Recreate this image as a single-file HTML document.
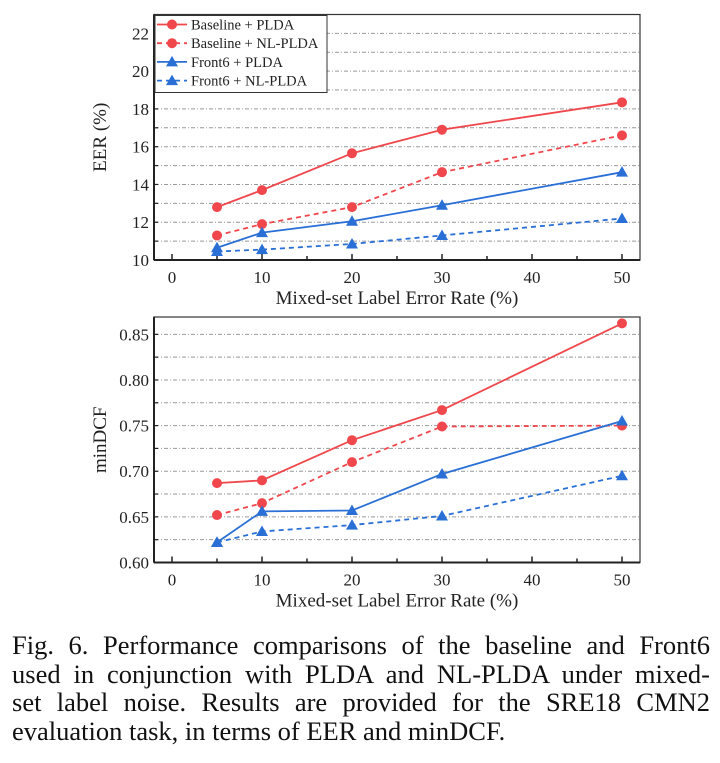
<!DOCTYPE html>
<html><head><meta charset="utf-8"><style>
body{margin:0;background:#fff;width:720px;height:763px;overflow:hidden;font-family:"Liberation Serif",serif}
svg text{font-family:"Liberation Serif","DejaVu Serif",serif !important}
#cap{position:absolute;left:12px;top:631px;width:698px;font-size:26.5px;line-height:28.7px;color:#111;font-family:"Liberation Serif",serif}
#cap div{text-align:justify;text-align-last:justify;white-space:nowrap}
#cap div.last{text-align-last:left}
</style></head><body>
<svg id="svg" width="720" height="630" style="position:absolute;left:0;top:0;font-family:'Liberation Serif',serif"></svg>
<div id="cap">
<div>Fig. 6. Performance comparisons of the baseline and Front6</div>
<div>used in conjunction with PLDA and NL-PLDA under mixed-</div>
<div>set label noise. Results are provided for the SRE18 CMN2</div>
<div class="last">evaluation task, in terms of EER and minDCF.</div>
</div>
<script>
const xCats=[5,10,20,30,50];
const xTicks=[0,10,20,30,40,50];
const seriesNames=["Baseline + PLDA","Baseline + NL-PLDA","Front6 + PLDA","Front6 + NL-PLDA"];
const eerBasePlda=[12.8,13.7,15.65,16.9,18.35];
const eerBaseNl=[11.3,11.9,12.8,14.65,16.6];
const eerFrontPlda=[10.65,11.45,12.05,12.9,14.65];
const eerFrontNl=[10.45,10.55,10.85,11.3,12.2];
const eerTicks=[10,12,14,16,18,20,22];
const dcfBasePlda=[0.687,0.690,0.734,0.767,0.862];
const dcfBaseNl=[0.652,0.665,0.710,0.749,0.750];
const dcfFrontPlda=[0.622,0.656,0.657,0.697,0.755];
const dcfFrontNl=[0.622,0.634,0.641,0.651,0.695];
const dcfTicks=[0.60,0.65,0.70,0.75,0.80,0.85];

const svg=document.getElementById('svg');
const NS='http://www.w3.org/2000/svg';
function mk(t,a,p){const e=document.createElementNS(NS,t);for(const k in a)e.setAttribute(k,a[k]);if(t==='text')e.style.fontFamily='"Liberation Serif", serif';(p||svg).appendChild(e);return e;}
const RED='#f0474c',BLUE='#2a6fd6';
const styles=[{c:RED,d:null,m:'c'},{c:RED,d:'5,4',m:'c'},{c:BLUE,d:null,m:'t'},{c:BLUE,d:'5,4',m:'t'}];

function chart(name,top,bot,ymin,ymax,ticks,minorStep,fmt,data,ytitle,legend){
  const L=154,R=640;
  const X=v=>L+(v+2)/54*(R-L);
  const Y=v=>bot-(v-ymin)/(ymax-ymin)*(bot-top);
  const g=mk('g',{});
  
  
  for(let v=ymin+minorStep;v<ymax-1e-9;v+=minorStep){
    const gl=mk('line',{x1:L+1,x2:R-1,y1:Y(v),y2:Y(v),stroke:'#999','stroke-width':1,'stroke-dasharray':'4,2,1,2'},g);
    
    
  }
  const fr=mk('rect',{x:L,y:top,width:R-L,height:bot-top,fill:'none',stroke:'#333','stroke-width':1.2},g);
  
  
  mk('line',{x1:L,x2:R,y1:bot,y2:bot,stroke:'#222','stroke-width':2},g);
  mk('line',{x1:L,x2:L,y1:top,y2:bot,stroke:'#222','stroke-width':2},g);
  for(let v=0;v<=50;v+=5){
    mk('line',{x1:X(v),x2:X(v),y1:bot,y2:bot-(v%10==0?6:4),stroke:'#222','stroke-width':1.5},g);
  }
  xTicks.forEach(v=>{
    const t=mk('text',{x:X(v),y:bot+23,'font-size':17,'text-anchor':'middle',fill:'#222'},g);t.textContent=v;
    
    
  });
  ticks.forEach(v=>{
    const t=mk('text',{x:L-5,y:Y(v)+6,'font-size':17,'text-anchor':'end',fill:'#222'},g);t.textContent=fmt(v);
    
    
  });
  for(let v=ymin+minorStep;v<ymax-1e-9;v+=minorStep){
    mk('line',{x1:L,x2:L+4,y1:Y(v),y2:Y(v),stroke:'#222','stroke-width':1.2},g);
  }
  const xt=mk('text',{x:397,y:bot+44,'font-size':19,'text-anchor':'middle',fill:'#222'},g);
  xt.textContent='Mixed-set Label Error Rate (%)';
  
  
  const yc=(top+bot)/2;
  const yt=mk('text',{x:106,y:yc,'font-size':19,'text-anchor':'middle',fill:'#222',transform:`rotate(-90 106 ${yc})`},g);
  yt.textContent=ytitle;
  
  
  if(legend){
    const lg=mk('g',{},g);
    
    
    mk('rect',{x:L+1,y:top+1,width:172,height:77,fill:'#fff',stroke:'#333','stroke-width':1},lg);
  }
  data.forEach((arr,i)=>{
    const s=styles[i];
    const sg=mk('g',{},g);
    
    
    const pts=arr.map((v,j)=>X(xCats[j])+','+Y(v)).join(' ');
    const pl=mk('polyline',{points:pts,fill:'none',stroke:s.c,'stroke-width':1.8},sg);
    if(s.d)pl.setAttribute('stroke-dasharray',s.d);
    arr.forEach((v,j)=>{
      const cx=X(xCats[j]),cy=Y(v);
      let m;
      if(s.m=='c')m=mk('circle',{cx,cy,r:5,fill:s.c},sg);
      else m=mk('polygon',{points:`${cx},${cy-6} ${cx-6},${cy+4.5} ${cx+6},${cy+4.5}`,fill:s.c},sg);
      
      
    });
    if(legend){
      const ly=top+10+i*18.7;
      const le=mk('g',{},sg);
      
      
      const ll=mk('line',{x1:L+3,x2:L+33,y1:ly,y2:ly,stroke:s.c,'stroke-width':1.8},le);
      if(s.d)ll.setAttribute('stroke-dasharray','5,4');
      const cx=L+18;
      if(s.m=='c')mk('circle',{cx,cy:ly,r:5,fill:s.c},le);
      else mk('polygon',{points:`${cx},${ly-6} ${cx-6},${ly+4.5} ${cx+6},${ly+4.5}`,fill:s.c},le);
      const t=mk('text',{x:L+37,y:ly+5,'font-size':14.5,fill:'#222'},le);t.textContent=seriesNames[i];
    }
  });
}
chart('eer-chart',14.5,260,10,23,eerTicks,1,v=>v,[eerBasePlda,eerBaseNl,eerFrontPlda,eerFrontNl],'EER (%)',true);
chart('mindcf-chart',317,562.5,0.60,0.869,dcfTicks,0.025,v=>v.toFixed(2),[dcfBasePlda,dcfBaseNl,dcfFrontPlda,dcfFrontNl],'minDCF',false);
</script>
</body></html>
